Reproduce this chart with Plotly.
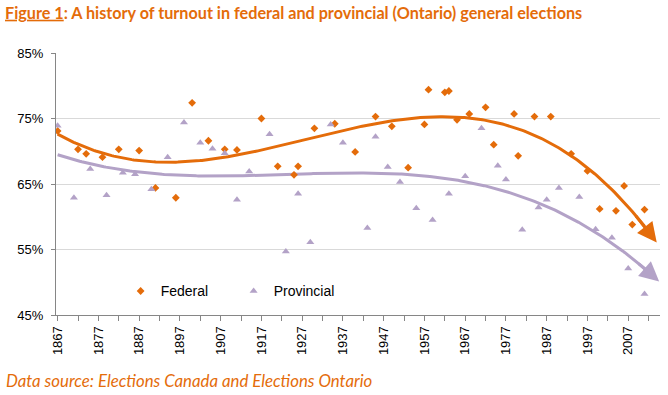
import numpy as np
import plotly.graph_objects as go

# ---- data ----
fed_years = [1867, 1872, 1874, 1878, 1882, 1887, 1891, 1896, 1900, 1904, 1908, 1911, 1917,
             1921, 1925, 1926, 1930, 1935, 1940, 1945, 1949, 1953, 1957, 1958, 1962, 1963,
             1965, 1968, 1972, 1974, 1979, 1980, 1984, 1988, 1993, 1997, 2000, 2004, 2006,
             2008, 2011]
fed_turnout = [73.1, 70.3, 69.6, 69.1, 70.3, 70.1, 64.4, 62.9, 77.4, 71.6, 70.3, 70.2, 75.0,
               67.7, 66.4, 67.7, 73.5, 74.2, 69.9, 75.3, 73.8, 67.5, 74.1, 79.4, 79.0, 79.2,
               74.8, 75.7, 76.7, 71.0, 75.7, 69.3, 75.3, 75.3, 69.6, 67.0, 61.2, 60.9, 64.7,
               58.8, 61.1]

prov_years = [1867, 1871, 1875, 1879, 1883, 1886, 1890, 1894, 1898, 1902, 1905, 1908, 1911,
              1914, 1919, 1923, 1926, 1929, 1934, 1937, 1943, 1945, 1948, 1951, 1955, 1959,
              1963, 1967, 1971, 1975, 1977, 1981, 1985, 1987, 1990, 1995, 1999, 2003, 2007,
              2011]
prov_turnout = [73.9, 62.9, 67.3, 63.3, 66.7, 66.5, 64.2, 69.1, 74.4, 71.3, 70.4, 69.7, 62.6,
                66.9, 72.6, 54.7, 63.5, 56.1, 74.1, 71.3, 58.3, 72.2, 67.6, 65.3, 61.3, 59.5,
                63.5, 66.2, 73.5, 67.8, 65.7, 58.0, 61.4, 62.6, 64.4, 63.0, 58.1, 56.8, 52.1,
                48.2]

y_ticks = [45, 55, 65, 75, 85]
x_tick_labels = [str(y) for y in range(1867, 2008, 10)]

ORANGE = "#E46C0A"
PURPLE = "#B3A2C7"
TREND_ORDER = 3
FORECAST_END = 2014


def trend(years, vals, end):
    x0 = 1867
    coef = np.polyfit(np.array(years) - x0, np.array(vals), TREND_ORDER)
    xs = np.linspace(years[0], end, 300)
    return xs, np.polyval(coef, xs - x0)


fx, fy = trend(fed_years, fed_turnout, FORECAST_END)
px_, py_ = trend(prov_years, prov_turnout, FORECAST_END + 0.6)

fig = go.Figure()

# trend lines (no legend)
fig.add_trace(go.Scatter(x=fx[:-6], y=fy[:-6], mode="lines", line=dict(color=ORANGE, width=3),
                         showlegend=False, hoverinfo="skip"))
fig.add_trace(go.Scatter(x=px_[:-6], y=py_[:-6], mode="lines", line=dict(color=PURPLE, width=3),
                         showlegend=False, hoverinfo="skip"))

fig.add_trace(go.Scatter(x=fed_years, y=fed_turnout, mode="markers", name="Federal",
                         marker=dict(symbol="diamond", size=6, color=ORANGE)))
fig.add_trace(go.Scatter(x=prov_years, y=prov_turnout, mode="markers", name="Provincial",
                         marker=dict(symbol="triangle-up", size=7, color=PURPLE)))

# arrowheads at the ends of the trend lines
for xs, ys, col in [(fx, fy, ORANGE), (px_, py_, PURPLE)]:
    fig.add_annotation(x=xs[-1], y=ys[-1], ax=xs[-12], ay=ys[-12], xref="x", yref="y",
                       axref="x", ayref="y", text="", showarrow=True, arrowhead=2,
                       arrowsize=1.3, arrowwidth=3, arrowcolor=col)

fig.add_annotation(text="Data source: Elections Canada and Elections Ontario",
                   xref="paper", yref="paper", x=0, xanchor="left", xshift=-52,
                   y=0, yanchor="middle", yshift=-65, showarrow=False,
                   font=dict(family="Lato", size=16.8, color=ORANGE, style="italic"))

fig.update_layout(
    width=668, height=395,
    margin=dict(l=56, r=8, t=53, b=80),
    paper_bgcolor="white", plot_bgcolor="white",
    title=dict(text="<u>Figure 1</u>: A history of turnout in federal and provincial (Ontario) general elections",
               x=0, xref="container", xanchor="left", y=0.967, yref="container",
               yanchor="middle",
               font=dict(family="Lato", size=16.2, color=ORANGE, weight="bold"),
               pad=dict(l=5)),
    showlegend=True,
    legend=dict(orientation="h", x=0.107, y=0.09, xanchor="left", yanchor="middle",
                font=dict(family="Liberation Sans, Arial", size=14, color="black"),
                bgcolor="rgba(0,0,0,0)", itemwidth=30, entrywidth=68),
    font=dict(family="Liberation Sans, Arial", size=13, color="black"),
)

fig.update_yaxes(range=[45, 85], tickvals=y_ticks, ticktext=[f"{v}%" for v in y_ticks],
                 showgrid=True, gridcolor="#D9D9D9", gridwidth=1,
                 showline=True, linecolor="#868686", linewidth=1,
                 ticks="outside", ticklen=4, tickcolor="#868686", ticklabelstandoff=5,
                 zeroline=False, tickfont=dict(size=13))

fig.update_xaxes(range=[1866.6, 2014.8],
                 tickvals=[int(t) for t in x_tick_labels], ticktext=x_tick_labels,
                 tickangle=-90, showgrid=False, showline=True, linecolor="#868686",
                 linewidth=1, ticks="outside", ticklen=5, tickcolor="#868686",
                 minor=dict(ticks="outside", dtick=5, tick0=1867, ticklen=5,
                            tickcolor="#868686", showgrid=False),
                 zeroline=False, tickfont=dict(size=13))

fig.write_html("out.html", config={"displayModeBar": False},
               post_script="document.body.style.margin='0';")
